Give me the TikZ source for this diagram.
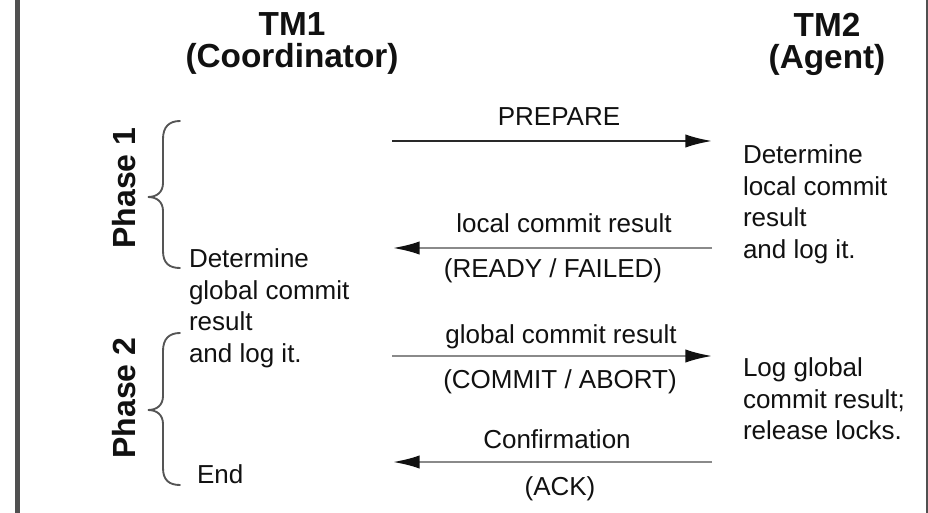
\documentclass[tikz,border=0pt]{standalone}
\usepackage{fontspec}
\setmainfont{Liberation Sans}
\usetikzlibrary{arrows.meta}
\definecolor{ink}{HTML}{111111}
\definecolor{rulecol}{HTML}{505050}
\definecolor{msgline}{HTML}{8A8A8A}
\definecolor{bracecol}{HTML}{555555}

\begin{document}
\begin{tikzpicture}[x=0.75pt,y=-0.75pt,
  every node/.style={inner sep=0pt, outer sep=0pt, text=ink},
  titletext/.style={font=\fontsize{25}{24}\selectfont\bfseries, align=center, anchor=north},
  bodytext/.style={font=\fontsize{19.5}{23.6}\selectfont, align=left, anchor=north west},
  msglabel/.style={font=\fontsize{19.5}{23.6}\selectfont, anchor=base},
  phaselabel/.style={font=\fontsize{24}{24}\selectfont\bfseries, rotate=90, anchor=base},
  msgarrow/.style={line width=1.5pt, draw=msgline,
    -{Latex[length=20pt,width=10pt,color=ink]}},
  firstarrow/.style={msgarrow, draw=ink!90},
  curly/.style={line width=1.4pt, draw=bracecol, line cap=round}
]
% canvas and side rules
\fill[white] (0,0) rectangle (928,513);
\useasboundingbox (0,0) rectangle (928,513);
\fill[rulecol] (15,0) rectangle (20,513);
\fill[rulecol] (926,0) rectangle (928,513);

% column headings
\node[titletext] (tm1) at (292,13) {TM1\\(Coordinator)};
\node[titletext] (tm2) at (827,13) {TM2\\(Agent)};

% phase labels and braces
\node[phaselabel] (ph1) at (135,188) {Phase 1};
\node[phaselabel] (ph2) at (135,398) {Phase 2};

\draw[curly] (180,121) .. controls (169,121) and (163,127) .. (163,139)
  -- (163,183) .. controls (163,192) and (157,197) .. (148,197)
  .. controls (157,197) and (163,202) .. (163,211)
  -- (163,251) .. controls (163,263) and (169,268) .. (180,268);
\draw[curly] (180,333) .. controls (169,333) and (163,339) .. (163,351)
  -- (163,396) .. controls (163,405) and (157,410) .. (148,410)
  .. controls (157,410) and (163,415) .. (163,424)
  -- (163,468) .. controls (163,480) and (169,485) .. (180,485);

% coordinator side
\node[bodytext] (coordlog) at (189,249) {Determine\\global commit\\result\\and log it.};
\node[bodytext] (coordend) at (197,465) {End};

% agent side
\node[bodytext] (agentlocal) at (743,145) {Determine\\local commit\\result\\and log it.};
\node[bodytext] (agentglobal) at (743,358) {Log global\\commit result;\\release locks.};

% message end points
\coordinate (c1) at (392,141);  \coordinate (a1) at (712,141);
\coordinate (c2) at (393,248);  \coordinate (a2) at (712,248);
\coordinate (c3) at (392,356);  \coordinate (a3) at (712,356);
\coordinate (c4) at (393,462);  \coordinate (a4) at (712,462);

% messages
\draw[firstarrow] (c1) -- (a1);
\draw[msgarrow] (a2) -- (c2);
\draw[msgarrow] (c3) -- (a3);
\draw[msgarrow] (a4) -- (c4);

% message labels
\node[msglabel] (m1) at (559,126) {PREPARE};
\node[msglabel] (m2a) at (564,233) {local commit result};
\node[msglabel] (m2b) at (553,278) {(READY / FAILED)};
\node[msglabel] (m3a) at (561,344) {global commit result};
\node[msglabel] (m3b) at (560,388) {(COMMIT / ABORT)};
\node[msglabel] (m4a) at (557,448) {Confirmation};
\node[msglabel] (m4b) at (560,495) {(ACK)};
\end{tikzpicture}
\end{document}
